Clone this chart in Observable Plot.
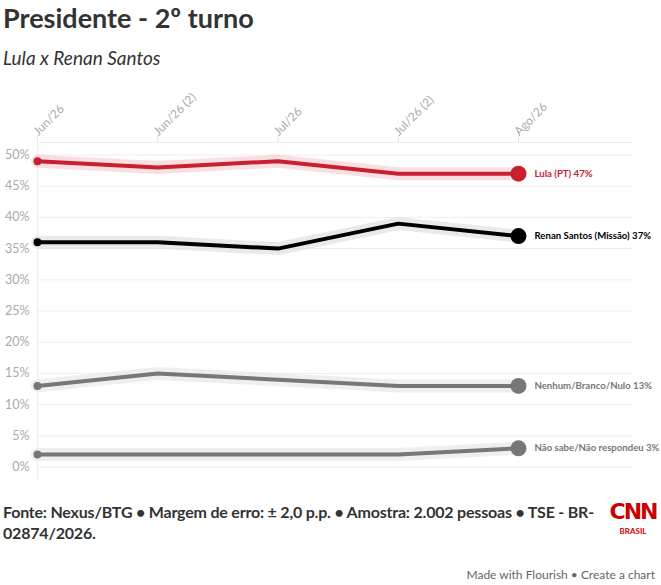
<!DOCTYPE html>
<html><head><meta charset="utf-8">
<script src="https://cdn.jsdelivr.net/npm/d3@7"></script>
<script src="https://cdn.jsdelivr.net/npm/@observablehq/plot@0.6"></script>
<style>
body{margin:0;background:#fff;font-family:Lato,"Noto Sans",sans-serif;width:661px;height:585px;overflow:hidden;position:relative}
#title{position:absolute;left:3px;top:1px;font-size:27px;font-weight:700;color:#333;}
#sub{position:absolute;left:3px;top:46px;font-size:19px;font-style:italic;color:#333;}
#chart{position:absolute;left:0;top:80px}
#foot{position:absolute;left:3px;top:501px;width:598px;font-size:16px;font-weight:700;color:#333;line-height:21px;letter-spacing:-0.2px}
#logo{position:absolute;left:608px;top:499px;width:50px;text-align:center;color:#cc0000}
#logo .c{font-size:22px;font-weight:900;line-height:26px;height:26px;letter-spacing:-2px;font-family:"DejaVu Sans",sans-serif;}
#logo .b{font-size:8px;font-weight:700;line-height:10px;margin-top:1px}
#made{position:absolute;right:6px;top:567px;font-size:12px;color:#666}
</style></head><body>
<div id="title">Presidente - 2º turno</div>
<div id="sub">Lula x Renan Santos</div>
<div id="chart"></div>
<div id="foot">Fonte: Nexus/BTG • Margem de erro: ± 2,0 p.p. • Amostra: 2.002 pessoas • TSE - BR-02874/2026.</div>
<div id="logo"><div class="c">CNN</div><div class="b">BRASIL</div></div>
<div id="made">Made with Flourish • Create a chart</div>
<script>
const periods = ["Jun/26", "Jun/26 (2)", "Jul/26", "Jul/26 (2)", "Ago/26"];
const seriesNames = ["Lula (PT)", "Renan Santos (Missão)", "Nenhum/Branco/Nulo", "Não sabe/Não respondeu"];
const colors = ["#c8202f", "#000000", "#777777", "#777777"];
const lula = [49, 48, 49, 47, 47];
const renan = [36, 36, 35, 39, 37];
const nenhum = [13, 15, 14, 13, 13];
const naoSabe = [2, 2, 2, 2, 3];
const yTicks = [0, 5, 10, 15, 20, 25, 30, 35, 40, 45, 50];

const values = [lula, renan, nenhum, naoSabe];
const data = [];
values.forEach((vals, s) => vals.forEach((v, i) => data.push({series: seriesNames[s], i, v, color: colors[s]})));
const last = data.filter(d => d.i === periods.length - 1);
const first = data.filter(d => d.i === 0);
const haloColors = ["#f3c6cb", "#d9d9d9", "#e2e2e2", "#e2e2e2"];
const idx = periods.map((p, i) => i);

const chart = Plot.plot({
  width: 661, height: 405,
  marginLeft: 37, marginRight: 29, marginTop: 62, marginBottom: 6,
  style: {fontFamily: "Lato, 'Noto Sans', sans-serif", fontSize: "12px", color: "#aaa", overflow: "visible"},
  x: {type: "linear", domain: [0, 4.948], axis: null},
  y: {type: "linear", domain: [-2, 52], axis: null},
  marks: [
    Plot.ruleY(yTicks, {stroke: "#eeeeee", strokeWidth: 1}),
    Plot.ruleY([52], {stroke: "#eeeeee", strokeWidth: 1}),
    Plot.ruleX([0], {y1: -2.2, y2: 52, stroke: "#eeeeee"}),
    Plot.ruleX(idx, {x: d => d, y1: 52, y2: 52, insetTop: -6, stroke: "#e6e6e6"}),
    Plot.text(periods, {x: (d, i) => i, y: 52, dy: -9, dx: -2, rotate: -45, textAnchor: "start", fill: "#aaa", fontSize: 12}),
    Plot.text(yTicks, {x: 0, y: d => d, text: d => d + "%", dx: -8, textAnchor: "end", fill: "#aaa", fontSize: 12.5}),
    ...seriesNames.map((s, k) => Plot.line(data.filter(d => d.series === s), {x: "i", y: "v", stroke: haloColors[k], strokeWidth: 13, strokeOpacity: 0.55})),
    ...seriesNames.map((s, k) => Plot.line(data.filter(d => d.series === s), {x: "i", y: "v", stroke: colors[k], strokeWidth: 4})),
    Plot.dot(first, {x: "i", y: "v", r: 4, fill: "color"}),
    Plot.dot(last, {x: "i", y: "v", r: 8, fill: "color"}),
    Plot.text(last, {x: "i", y: "v", text: d => `${d.series} ${d.v}%`, dx: 16, textAnchor: "start", fill: "color", fontWeight: 700, fontSize: 9.6})
  ]
});
document.getElementById("chart").appendChild(chart);
</script>
</body></html>
